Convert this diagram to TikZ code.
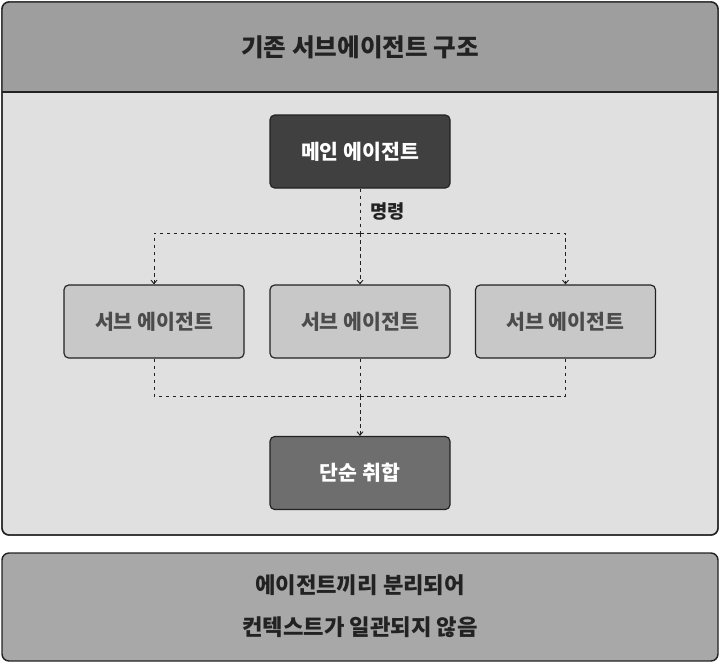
\documentclass[tikz,border=0pt]{standalone}
\usepackage{fontspec}
\setmainfont{Noto Sans CJK KR}
\usetikzlibrary{calc, positioning, arrows.meta}
\definecolor{panelbg}{HTML}{E0E0E0}
\definecolor{headbg}{HTML}{9E9E9E}
\definecolor{edge}{HTML}{222222}
\definecolor{maindark}{HTML}{404040}
\definecolor{subgray}{HTML}{C8C8C8}
\definecolor{aggray}{HTML}{6E6E6E}
\definecolor{notegray}{HTML}{A8A8A8}
\tikzset{
  agentbox/.style = {draw = edge, line width = 1pt, rounded corners = 4pt, minimum width = 180*0.03cm, minimum height = 73*0.03cm, font = \bfseries\fontsize{17.5}{20}\selectfont},
  flow/.style = {dashed, line width = 0.8pt, edge},
  flowarrow/.style = {flow, -{Straight Barb[length=3pt, width=5pt]}}
}
\begin{document}
\begin{tikzpicture}[x = 0.03cm, y = -0.03cm]
            \useasboundingbox (0, 0) rectangle (720, 663);
            
            % upper panel
            \draw[edge, line width = 1.2pt, fill = panelbg, rounded corners = 6pt](2, 2) rectangle (718, 535);
            \begin{scope}
                \clip[rounded corners = 6pt](2, 2) rectangle (718, 535);
                \fill[headbg](2, 2) rectangle (718, 92);
            \end{scope}
            \draw[edge, line width = 1pt](2, 92) -- (718, 92);
            \draw[edge, line width = 1.2pt, rounded corners = 6pt](2, 2) rectangle (718, 535);
            \node[font = \bfseries\fontsize{21}{24}\selectfont, text = edge] (title) at (360, 47) {기존 서브에이전트 구조};
            
            % agents
            \node[agentbox, fill = maindark, text = white] (main) at (360, 151.5) {메인 에이전트};
            \node[agentbox, fill = subgray, text = black!70] (subB) at (360, 321.5) {서브 에이전트};
            \node[agentbox, fill = subgray, text = black!70] (subA) at (154, 321.5) {서브 에이전트};
            \node[agentbox, fill = subgray, text = black!70] (subC) at (565.5, 321.5) {서브 에이전트};
            \node[agentbox, fill = aggray, text = white] (merge) at (360, 473) {단순 취합};
            
            % command fan-out
            \coordinate (split) at (360, 233);
            \draw[flow](main.south) -- (split);
            \node[font = \bfseries\fontsize{16}{18}\selectfont, text = edge, anchor = west] (cmd) at (366, 212) {명령};
            \draw[flowarrow](split) -| (subA.north);
            \draw[flowarrow](split) -- (subB.north);
            \draw[flowarrow](split) -| (subC.north);
            
            % gather
            \coordinate (join) at (360, 396);
            \draw[flow](subA.south) |- (join);
            \draw[flow](subC.south) |- (join);
            \draw[flow](subB.south) -- (join);
            \draw[flowarrow](join) -- (merge.north);
            
            % note panel
            \draw[edge, line width = 1.2pt, fill = notegray, rounded corners = 6pt](2, 553) rectangle (718, 661);
            \node[font = \bfseries\fontsize{19}{36}\selectfont, text = edge, align = center] (note) at (360, 606) {에이전트끼리 분리되어\\컨텍스트가 일관되지 않음};
        \end{tikzpicture}
\end{document}
